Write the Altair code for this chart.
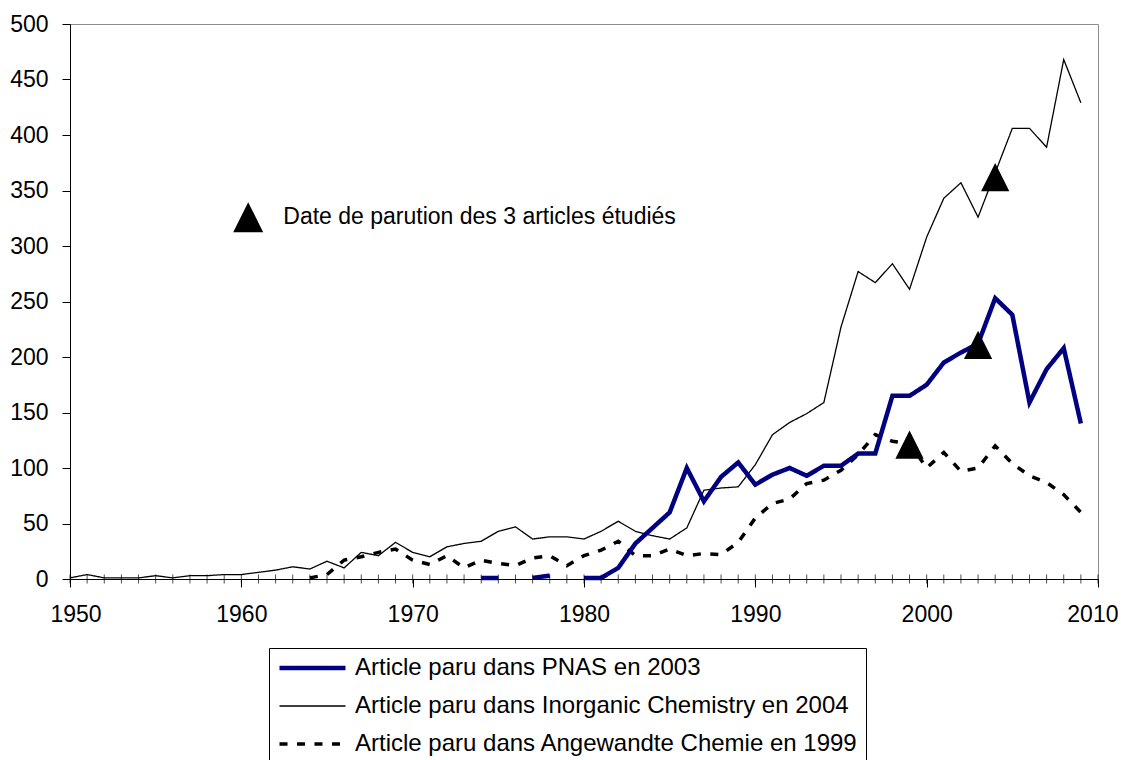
import altair as alt
import pandas as pd

# ---------------- data ----------------
years = list(range(1950, 2010))

inorganic = [1, 4, 1, 1, 1, 3, 1, 3, 3, 4,
             4, 6, 8, 11, 9, 16, 10, 24, 21, 33,
             24, 20, 29, 32, 34, 43, 47, 36, 38, 38,
             36, 43, 52, 43, 39, 36, 46, 80, 82, 83,
             103, 130, 141, 149, 159, 227, 277, 267, 284, 261,
             308, 343, 357, 326, 366, 406, 406, 389, 468, 429]

pnas = [None] * 24 + [1, 1, None, 1, 3, None,
                      1, 1, 10, 32, 46, 60, 100, 70, 92, 105,
                      85, 94, 100, 93, 102, 102, 113, 113, 165, 165,
                      175, 195, 204, 212, 253, 238, 159, 189, 208, 140]

angewandte = [None] * 14 + [1, 4, 17, 20, 24, 27,
                            17, 13, 21, 10, 17, 14, 12, 19, 21, 12,
                            21, 26, 34, 21, 21, 27, 21, 23, 22, 33,
                            55, 68, 72, 86, 89, 98, 112, 130, 124, 122,
                            100, 114, 97, 100, 120, 104, 93, 87, 76, 60]

series_names = ["Article paru dans PNAS en 2003",
                "Article paru dans Inorganic Chemistry en 2004",
                "Article paru dans Angewandte Chemie en 1999"]
series_colors = ["#000080", "#000000", "#000000"]
series_widths = [4.5, 1.3, 3.5]
series_dashes = [[1, 0], [1, 0], [8, 9.5]]

# publication dates (triangles)
pub_years = [1999, 2003, 2004]
pub_values = [121, 211, 362]

annot_text = "Date de parution des 3 articles étudiés"
annot_tri_x = [1960.4]
annot_tri_y = [326]
annot_text_x = 1962.45
annot_text_y = 326

x_ticks = [1950, 1960, 1970, 1980, 1990, 2000, 2010]
y_ticks = [0, 50, 100, 150, 200, 250, 300, 350, 400, 450, 500]
minor_ticks = list(range(1950, 2011))

FONT = "Liberation Sans"

# ---------------- build long table (break lines at gaps) ----------------
rows = []
for name, vals in [(series_names[1], inorganic),
                   (series_names[2], angewandte),
                   (series_names[0], pnas)]:
    seg = 0
    prev_none = True
    for yr, v in zip(years, vals):
        if v is None:
            prev_none = True
            continue
        if prev_none:
            seg += 1
            prev_none = False
        rows.append({"year": yr, "value": v, "series": name,
                     "seg": f"{name}-{seg}"})
df = pd.DataFrame(rows)

xscale = alt.Scale(domain=[1950, 2010], nice=False, zero=False)
yscale = alt.Scale(domain=[0, 500], nice=False)

lines = alt.Chart(df).mark_line().encode(
    x=alt.X("year:Q", scale=xscale, title=None,
            axis=alt.Axis(values=x_ticks, format="d", grid=False,
                          tickSize=8, labelPadding=16, labelFlush=True,
                          labelFlushOffset=20)),
    y=alt.Y("value:Q", scale=yscale, title=None,
            axis=alt.Axis(values=y_ticks, grid=False, tickSize=8,
                          labelPadding=14)),
    color=alt.Color("series:N", title=None,
                    scale=alt.Scale(domain=series_names, range=series_colors)),
    strokeWidth=alt.StrokeWidth("series:N", title=None,
                                scale=alt.Scale(type="ordinal",
                                                domain=series_names,
                                                range=series_widths)),
    strokeDash=alt.StrokeDash("series:N", title=None,
                              scale=alt.Scale(type="ordinal",
                                              domain=series_names,
                                              range=series_dashes)),
    detail="seg:N",
)

ticks = alt.Chart(pd.DataFrame({"year": minor_ticks})).mark_tick(
    orient="vertical", size=9, thickness=1, color="black"
).encode(
    x=alt.X("year:Q", scale=xscale, title=None),
    y=alt.datum(0),
)

TRI = "M0,-1L1,1L-1,1Z"

triangles = alt.Chart(pd.DataFrame({"year": pub_years, "value": pub_values})).mark_point(
    shape=TRI, filled=True, size=800, color="black", opacity=1
).encode(
    x=alt.X("year:Q", scale=xscale, title=None),
    y=alt.Y("value:Q", scale=yscale, title=None),
)

annot_tri = alt.Chart(pd.DataFrame({"year": annot_tri_x, "value": annot_tri_y})).mark_point(
    shape=TRI, filled=True, size=900, color="black", opacity=1
).encode(
    x=alt.X("year:Q", scale=xscale, title=None),
    y=alt.Y("value:Q", scale=yscale, title=None),
)

annot = alt.Chart(pd.DataFrame({"year": [annot_text_x], "value": [annot_text_y],
                                "txt": [annot_text]})).mark_text(
    align="left", baseline="middle", fontSize=23, font=FONT, color="black"
).encode(
    x=alt.X("year:Q", scale=xscale, title=None),
    y=alt.Y("value:Q", scale=yscale, title=None),
    text="txt:N",
)

chart = alt.layer(lines, ticks, triangles, annot_tri, annot).properties(
    width=1028,
    height=555,
    autosize=alt.AutoSizeParams(type="none"),
    padding={"left": 62, "top": 16, "right": 20, "bottom": 181},
).configure_view(
    stroke="#8c8c8c", strokeWidth=1
).configure_axis(
    domainColor="black", tickColor="black", labelColor="black",
    labelFont=FONT, labelFontSize=23, domainWidth=1, tickWidth=1,
).configure_legend(
    orient="none", legendX=199, legendY=624, padding=8,
    strokeColor="black", fillColor="white",
    symbolType="stroke", symbolSize=4356, clipHeight=24,
    labelFont=FONT, labelFontSize=24,
    labelColor="black", labelOffset=7, rowPadding=14, labelLimit=1000,
)

chart.save("out.html", embed_options={"renderer": "svg", "actions": False})
